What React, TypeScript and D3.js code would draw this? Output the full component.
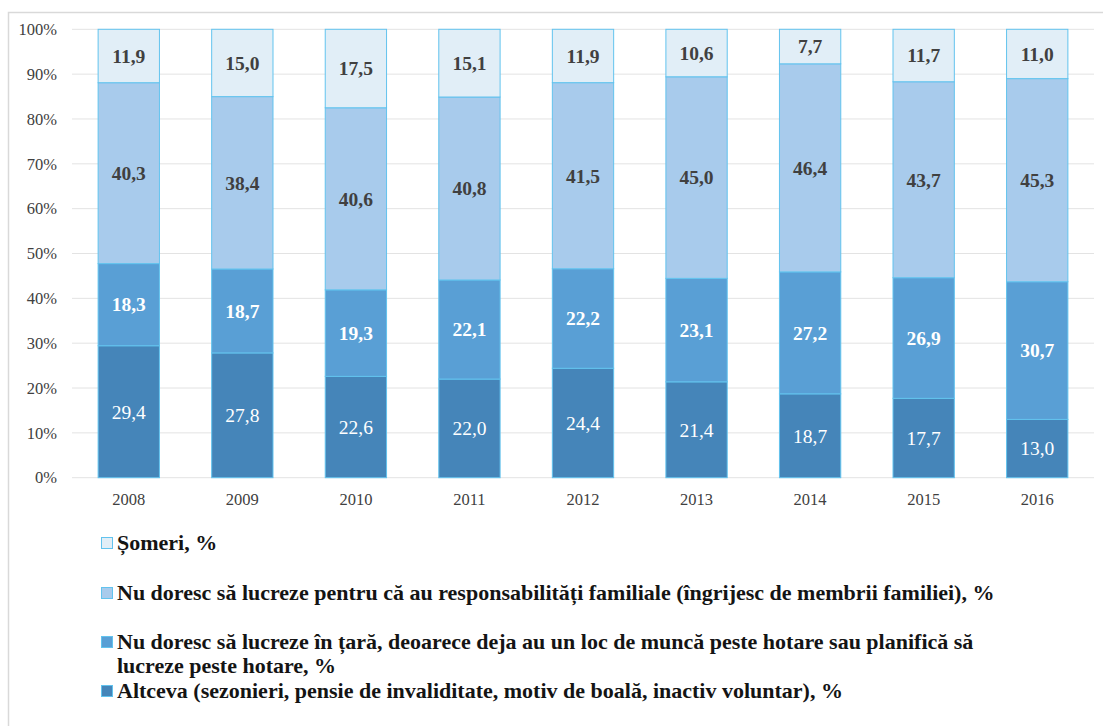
import React from "react";
import * as d3 from "d3";

const years = ["2008", "2009", "2010", "2011", "2012", "2013", "2014", "2015", "2016"];
const altceva = [29.4, 27.8, 22.6, 22.0, 24.4, 21.4, 18.7, 17.7, 13.0];
const peste = [18.3, 18.7, 19.3, 22.1, 22.2, 23.1, 27.2, 26.9, 30.7];
const familie = [40.3, 38.4, 40.6, 40.8, 41.5, 45.0, 46.4, 43.7, 45.3];
const someri = [11.9, 15.0, 17.5, 15.1, 11.9, 10.6, 7.7, 11.7, 11.0];
const yTicks = [0, 10, 20, 30, 40, 50, 60, 70, 80, 90, 100];

const seriesData = [altceva, peste, familie, someri];
const fills = ["#4585b9", "#599fd5", "#a8cbec", "#e1eef7"];
const labelColors = ["#ffffff", "#ffffff", "#404040", "#404040"];
const labelWeights = ["normal", "bold", "bold", "bold"];

const FONT = "'Liberation Serif', 'DejaVu Serif', serif";

export default function App() {
  const W = 1103, H = 726;
  const left = 72, right = 1094, top = 29.3, bottom = 477.7;
  const x = d3.scaleBand<string>().domain(years).range([left, right]).paddingInner(0.46).paddingOuter(0.23);
  const y = d3.scaleLinear().domain([0, 100]).range([bottom, top]);

  const rows = years.map((yr, i) => {
    const obj: any = { year: yr };
    seriesData.forEach((s, k) => (obj["s" + k] = s[i]));
    return obj;
  });
  const stack = d3.stack<any>().keys(["s0", "s1", "s2", "s3"]).offset(d3.stackOffsetExpand);
  const stacked = stack(rows);

  const legendItems = [
    { k: 3, lines: ["Șomeri, %"], y: 550 },
    { k: 2, lines: ["Nu doresc să lucreze pentru că au responsabilități familiale (îngrijesc de membrii familiei), %"], y: 600 },
    { k: 1, lines: ["Nu doresc să lucreze în țară, deoarece deja au un loc de muncă peste hotare sau planifică să", "lucreze peste hotare, %"], y: 649 },
    { k: 0, lines: ["Altceva (sezonieri,  pensie de invaliditate, motiv de boală, inactiv voluntar), %"], y: 698 },
  ];

  return (
    <svg width={W} height={H} style={{ position: "absolute", left: 0, top: 0, background: "#fff" }}>
      <rect x={8.5} y={12.5} width={W + 10} height={H + 10} fill="#fff" stroke="#d9d9d9" strokeWidth={1.5} />
      {yTicks.map((t) => (
        <g key={t}>
          <line x1={left} x2={right} y1={y(t)} y2={y(t)} stroke="#e3e3e3" strokeWidth={1} />
          <text x={57} y={y(t)} dy="0.35em" textAnchor="end" fontFamily={FONT} fontSize={16.5} fill="#404040">
            {t}%
          </text>
        </g>
      ))}
      {stacked.map((layer, k) => (
        <g key={k}>
          {layer.map((d, i) => {
            const x0 = x(years[i])!;
            const y0 = y(d[1] * 100);
            const y1 = y(d[0] * 100);
            return (
              <g key={i}>
                <rect x={x0} y={y0} width={x.bandwidth()} height={y1 - y0} fill={fills[k]} stroke="#62c3ee" strokeWidth={1} />
                <text
                  x={x0 + x.bandwidth() / 2}
                  y={(y0 + y1) / 2}
                  dy="0.35em"
                  textAnchor="middle"
                  fontFamily={FONT}
                  fontSize={19.5}
                  fontWeight={labelWeights[k]}
                  fill={labelColors[k]}
                >
                  {seriesData[k][i].toFixed(1).replace(".", ",")}
                </text>
              </g>
            );
          })}
        </g>
      ))}
      {years.map((yr) => (
        <text key={yr} x={x(yr)! + x.bandwidth() / 2} y={505} textAnchor="middle" fontFamily={FONT} fontSize={16.5} fill="#404040">
          {yr}
        </text>
      ))}
      {legendItems.map((it) => (
        <g key={it.k}>
          <rect x={101.5} y={it.y - 12.5} width={11} height={11} fill={fills[it.k]} stroke="#62c3ee" strokeWidth={1} />
          <text x={117} y={it.y} fontFamily={FONT} fontSize={22} fontWeight="bold" fill="#141414">
            {it.lines.map((ln, j) => (
              <tspan key={j} x={117} y={it.y + j * 24}>
                {ln}
              </tspan>
            ))}
          </text>
        </g>
      ))}
    </svg>
  );
}
